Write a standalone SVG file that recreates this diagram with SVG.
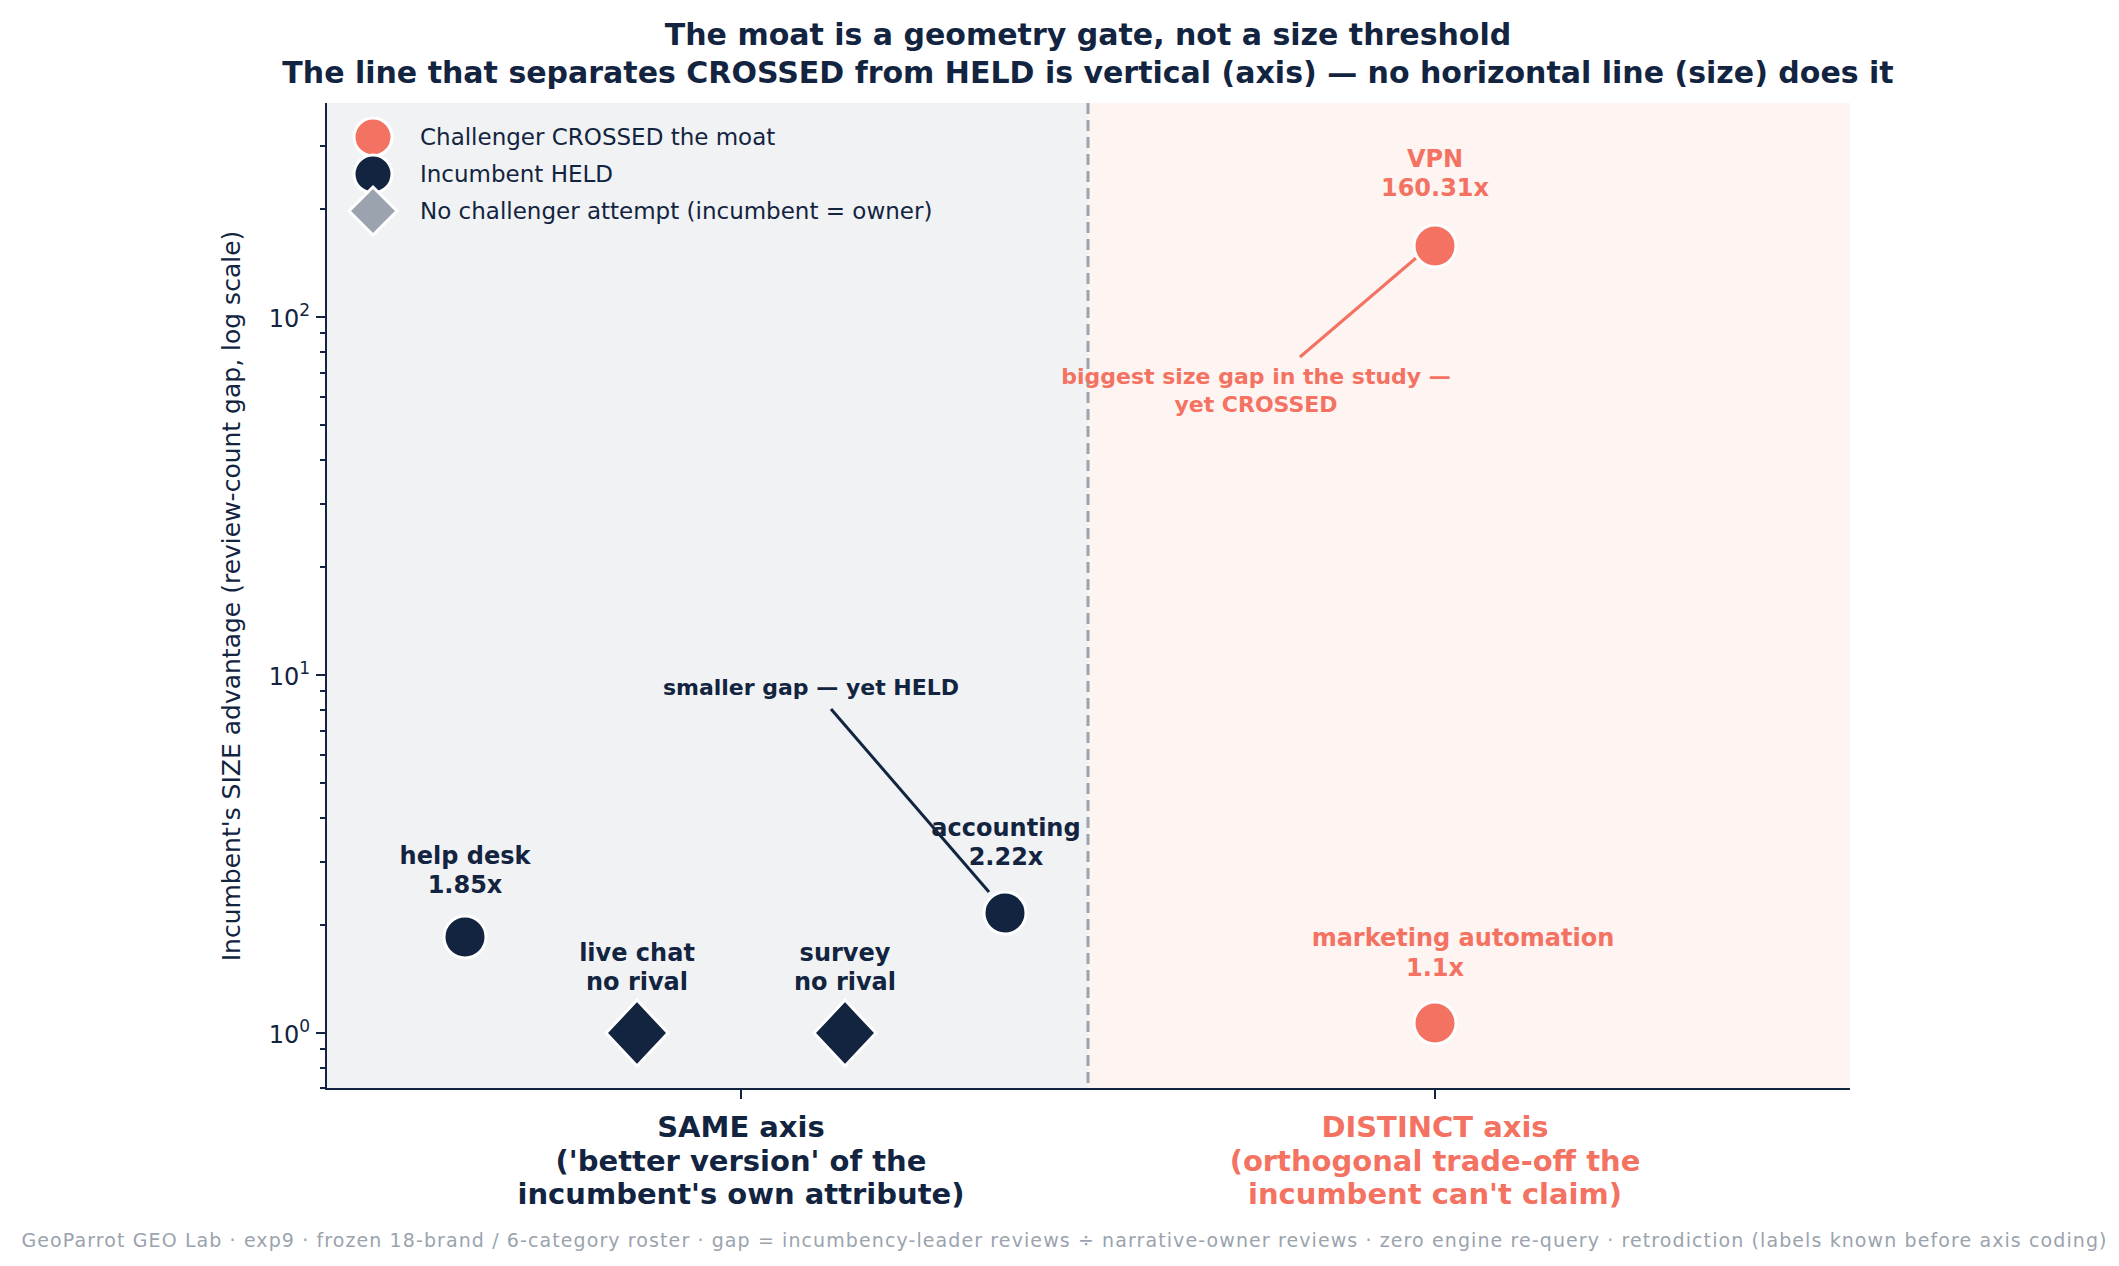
<svg xmlns="http://www.w3.org/2000/svg" width="2119" height="1266" viewBox="0 0 2119 1266">
<style>
text{font-family:"DejaVu Sans","Liberation Sans",sans-serif;}
.t{font-weight:bold;font-size:30px;fill:#12243f;text-anchor:middle}
.lbn{font-weight:bold;font-size:24px;fill:#12243f;text-anchor:middle}
.lbc{font-weight:bold;font-size:24px;fill:#f47262;text-anchor:middle}
.ann{font-weight:bold;font-size:22px;text-anchor:middle}
.leg{font-size:23px;fill:#12243f}
.tick{font-size:24px;fill:#12243f;text-anchor:end}
.xl{font-weight:bold;font-size:29px;text-anchor:middle}
.ax{stroke:#12243f;stroke-width:2}
.c{stroke:#fff;stroke-width:3}
</style>
<rect width="2119" height="1266" fill="#fff"/>
<text class="t" x="1088" y="45">The moat is a geometry gate, not a size threshold</text>
<text class="t" x="1088" y="83">The line that separates CROSSED from HELD is vertical (axis) — no horizontal line (size) does it</text>
<rect x="326" y="103" width="762" height="986" fill="#f1f2f4"/>
<rect x="1088" y="103" width="762" height="986" fill="#fef4f2"/>
<line x1="1088" y1="103" x2="1088" y2="1089" stroke="#9aa3ae" stroke-width="3" stroke-dasharray="11,6"/>
<g id="axes">
<line class="ax" x1="326" y1="103" x2="326" y2="1089"/>
<line class="ax" x1="325" y1="1089" x2="1850" y2="1089"/>
<path class="ax" d="M316 1033H326M316 675H326M316 317H326"/>
<path class="ax" stroke-width="1.5" d="M320 1088H326M320 1068H326M320 1049H326M320 925H326M320 862H326M320 818H326M320 783H326M320 755H326M320 731H326M320 710H326M320 691H326M320 567H326M320 504H326M320 460H326M320 425H326M320 397H326M320 373H326M320 352H326M320 333H326M320 209H326M320 146H326"/>
<path class="ax" d="M741 1089V1099M1435 1089V1099"/>
<text class="tick" x="310" y="1043">10<tspan font-size="17" dy="-11">0</tspan></text>
<text class="tick" x="310" y="685">10<tspan font-size="17" dy="-11">1</tspan></text>
<text class="tick" x="310" y="327">10<tspan font-size="17" dy="-11">2</tspan></text>
<text transform="translate(240,596) rotate(-90)" font-size="25" fill="#12243f" text-anchor="middle">Incumbent's SIZE advantage  (review-count gap, log scale)</text>
<text class="xl" fill="#12243f"><tspan x="741" y="1137">SAME axis</tspan><tspan x="741" y="1171">('better version' of the</tspan><tspan x="741" y="1204">incumbent's own attribute)</tspan></text>
<text class="xl" fill="#f47262"><tspan x="1435" y="1137">DISTINCT axis</tspan><tspan x="1435" y="1171">(orthogonal trade-off the</tspan><tspan x="1435" y="1204">incumbent can't claim)</tspan></text>
</g>
<g id="connectors">
<line x1="831" y1="709" x2="989" y2="892" stroke="#12243f" stroke-width="3"/>
<line x1="1300" y1="357" x2="1416" y2="258" stroke="#f47262" stroke-width="3"/>
</g>
<g id="help-desk"><circle class="c" cx="465" cy="937" r="21" fill="#12243f"/><text class="lbn"><tspan x="465" y="864">help desk</tspan><tspan x="465" y="893">1.85x</tspan></text></g>
<g id="live-chat"><path class="c" d="M637 1000L668 1033L637 1066L606 1033Z" fill="#12243f"/><text class="lbn"><tspan x="637" y="961">live chat</tspan><tspan x="637" y="990">no rival</tspan></text></g>
<g id="survey"><path class="c" d="M845 1000L876 1033L845 1066L814 1033Z" fill="#12243f"/><text class="lbn"><tspan x="845" y="961">survey</tspan><tspan x="845" y="990">no rival</tspan></text></g>
<g id="accounting"><circle class="c" cx="1005" cy="913" r="21" fill="#12243f"/><text class="lbn"><tspan x="1006" y="836">accounting</tspan><tspan x="1006" y="865">2.22x</tspan></text></g>
<g id="vpn"><circle class="c" cx="1435" cy="246" r="21" fill="#f47262"/><text class="lbc"><tspan x="1435" y="167">VPN</tspan><tspan x="1435" y="196">160.31x</tspan></text></g>
<g id="marketing-automation"><circle class="c" cx="1435" cy="1023" r="21" fill="#f47262"/><text class="lbc"><tspan x="1463" y="946">marketing automation</tspan><tspan x="1435" y="976">1.1x</tspan></text></g>
<text class="ann" fill="#12243f" x="811" y="695">smaller gap — yet HELD</text>
<text class="ann" fill="#f47262"><tspan x="1256" y="384">biggest size gap in the study —</tspan><tspan x="1256" y="412">yet CROSSED</tspan></text>
<g id="legend">
<circle class="c" cx="373" cy="137" r="19" fill="#f47262"/>
<circle class="c" cx="373" cy="174" r="19" fill="#12243f"/>
<path class="c" d="M373 187L397 211L373 235L349 211Z" fill="#9aa3ae"/>
<text class="leg" x="420" y="145">Challenger CROSSED the moat</text>
<text class="leg" x="420" y="182">Incumbent HELD</text>
<text class="leg" x="420" y="219">No challenger attempt (incumbent = owner)</text>
</g>
<text x="1064" y="1247" font-size="19" fill="#9aa3ae" text-anchor="middle" textLength="2085">GeoParrot GEO Lab · exp9 · frozen 18-brand / 6-category roster · gap = incumbency-leader reviews ÷ narrative-owner reviews · zero engine re-query · retrodiction (labels known before axis coding)</text>
</svg>
